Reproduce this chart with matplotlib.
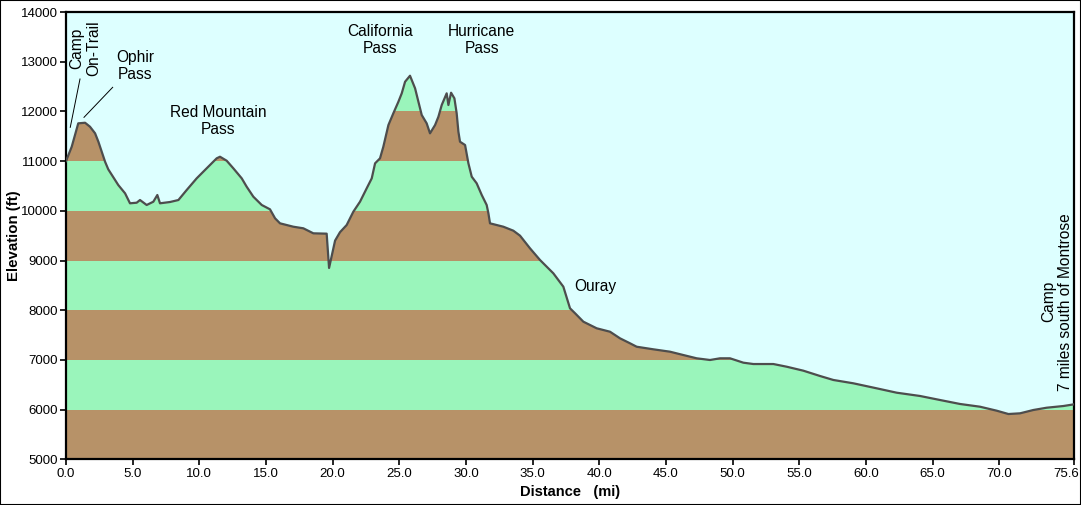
import matplotlib.pyplot as plt
import numpy as np
from matplotlib.patches import Rectangle
from matplotlib.transforms import ScaledTranslation

# profile
dist = [0.0, 0.43, 0.92, 1.43, 1.8, 2.18, 2.43, 2.93, 3.17, 3.92, 4.43, 4.8, 5.3, 5.55,
        6.05, 6.55, 6.85, 7.05, 7.8, 8.43, 9.05, 9.8, 10.55, 11.3, 11.55, 12.05, 12.55,
        13.18, 13.55, 14.05, 14.68, 15.3, 15.68, 16.05, 17.05, 17.8, 18.55, 19.55, 19.73,
        20.18, 20.55, 21.05, 21.55, 22.05, 22.55, 22.93, 23.18, 23.55, 23.8, 24.18, 24.55,
        24.93, 25.18, 25.43, 25.8, 26.18, 26.43, 26.68, 27.05, 27.3, 27.68, 27.93, 28.18,
        28.55, 28.68, 28.88, 29.13, 29.3, 29.43, 29.55, 29.93, 30.18, 30.43, 30.8, 31.18,
        31.55, 31.68, 31.8, 32.8, 33.55, 34.05, 34.8, 35.55, 36.55, 37.3, 37.8, 38.18,
        38.8, 39.8, 40.8, 41.55, 42.3, 42.8, 44.05, 45.3, 46.3, 47.3, 48.3, 49.05, 49.8,
        50.8, 51.55, 53.05, 54.05, 55.3, 56.55, 57.55, 59.05, 60.8, 62.3, 64.05, 65.55,
        67.05, 68.55, 69.8, 70.68, 71.55, 72.55, 73.55, 74.8, 75.6]
elev = [11000, 11290, 11760, 11772, 11692, 11560, 11390, 10988, 10835, 10519, 10352, 10151,
        10163, 10217, 10117, 10183, 10318, 10151, 10177, 10217, 10418, 10653, 10855, 11056,
        11088, 11008, 10855, 10653, 10485, 10284, 10117, 10030, 9849, 9748, 9680, 9648,
        9547, 9540, 8850, 9400, 9570, 9714, 9982, 10183, 10452, 10653, 10955, 11056, 11290,
        11726, 11962, 12195, 12364, 12597, 12718, 12465, 12195, 11927, 11760, 11559, 11726,
        11893, 12129, 12364, 12129, 12376, 12263, 11962, 11591, 11390, 11324, 10955, 10686,
        10553, 10318, 10117, 9949, 9748, 9680, 9600, 9500, 9245, 9010, 8742, 8473, 8038,
        7938, 7769, 7636, 7567, 7434, 7334, 7265, 7213, 7165, 7098, 7032, 6998, 7032, 7032,
        6944, 6917, 6917, 6863, 6783, 6676, 6596, 6529, 6428, 6340, 6274, 6193, 6113, 6058,
        5978, 5911, 5925, 5992, 6038, 6072, 6106]

band_edges = [5000, 6000, 7000, 8000, 9000, 10000, 11000, 12000, 13000]
band_colors = ['#b79268', '#9af5bb']

xticks = [0, 5, 10, 15, 20, 25, 30, 35, 40, 45, 50, 55, 60, 65, 70, 75.6]
yticks = [5000, 6000, 7000, 8000, 9000, 10000, 11000, 12000, 13000, 14000]

# labels: text, x, y, rotation
labels = [
    ('Camp\nOn-Trail', 1.43, 13275, 90),
    ('Ophir\nPass', 5.18, 12913, 0),
    ('Red Mountain\nPass', 11.43, 11800, 0),
    ('California\nPass', 23.55, 13436, 0),
    ('Hurricane\nPass', 31.18, 13436, 0),
    ('Ouray', 39.7, 8473, 0),
    ('Camp\n7 miles south of Montrose', 74.3, 8171, 90),
]
leaders = [((0.32, 11680), (1.05, 12652)), ((1.35, 11881), (3.5, 12485))]

plt.rcParams['font.family'] = ['Liberation Sans', 'DejaVu Sans']

fig = plt.figure(figsize=(10.81, 5.05), dpi=100)
ax = fig.add_axes([0.06105, 0.0905, 0.9325, 0.8857])
ax.set_facecolor('#ddffff')

# profile shape used as clip for the bands
poly = ax.fill_between(dist, 5000, elev, color='none', linewidth=0)
clip = poly.get_paths()[0]
for i in range(len(band_edges) - 1):
    span = ax.axhspan(band_edges[i], band_edges[i + 1], color=band_colors[i % 2], linewidth=0, zorder=1)
    span.set_clip_path(clip, ax.transData)
ax.plot(dist, elev, color='#4d4d4d', linewidth=1.6, zorder=3)

for txt, x, y, rot in labels:
    ax.text(x, y, txt, ha='center', va='center', rotation=rot, fontsize=11.2,
            multialignment='center', linespacing=1.15, zorder=4)
for (x0, y0), (x1, y1) in leaders:
    ax.plot([x0, x1], [y0, y1], color='black', linewidth=0.7, zorder=4)

ax.set_xlim(0, 75.6)
ax.set_ylim(5000, 14000)
ax.set_xticks(xticks)
ax.set_xticklabels(['%.1f' % t for t in xticks])
ax.set_yticks(yticks)
ax.tick_params(direction='out', length=4, width=1.2, labelsize=9.5, pad=2)
# last tick label pulled inside like the original
last = ax.get_xticklabels()[-1]
last.set_transform(last.get_transform() + ScaledTranslation(-0.08, 0, fig.dpi_scale_trans))
for s in ax.spines.values():
    s.set_linewidth(1.6)
ax.set_xlabel('Distance   (mi)', fontsize=10.5, fontweight='bold', labelpad=4)
ax.set_ylabel('Elevation (ft)', fontsize=10.8, fontweight='bold')
ax.yaxis.set_label_coords(-0.0445, 0.5)

fig.patches.append(Rectangle((0, 0), 1, 1, transform=fig.transFigure, fill=False,
                             edgecolor='black', linewidth=1.5))

fig.savefig('out.png', dpi=100)
